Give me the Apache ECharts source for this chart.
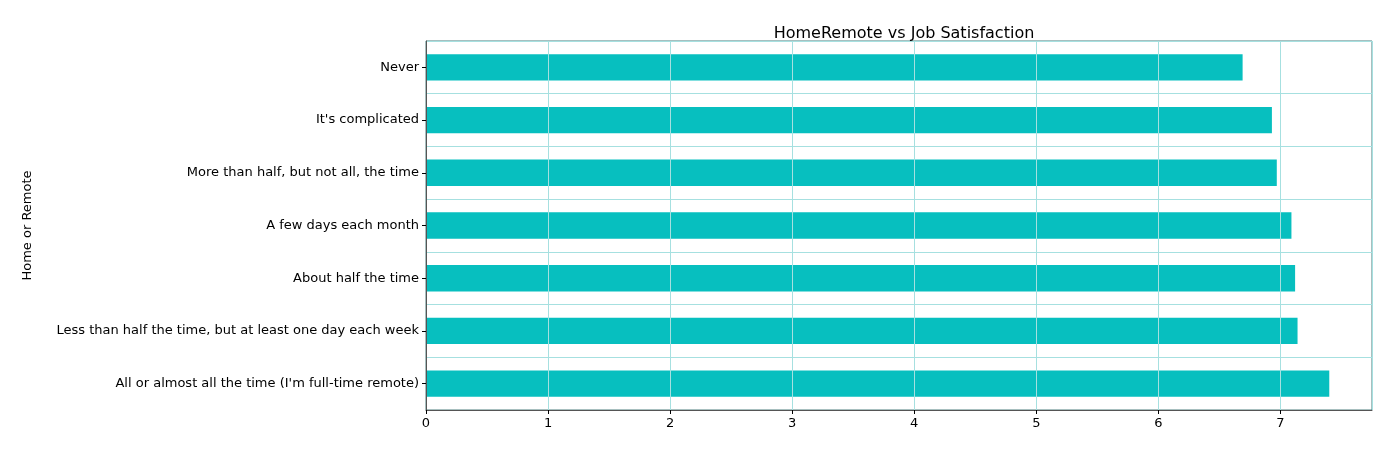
<!DOCTYPE html>
<html><head><meta charset="utf-8">
<script src="https://cdn.jsdelivr.net/npm/echarts@6/dist/echarts.min.js"></script>
<style>html,body{margin:0;background:#fff}#c{width:1400px;height:453px}</style>
</head><body><div id="c"></div>
<script>
const categories = ["All or almost all the time (I'm full-time remote)","Less than half the time, but at least one day each week","About half the time","A few days each month","More than half, but not all, the time","It's complicated","Never"];
const values = [7.40, 7.14, 7.12, 7.09, 6.97, 6.93, 6.69];
const chart = echarts.init(document.getElementById('c'));
const font = "DejaVu Sans";
chart.setOption({
  animation:false,
  title:{text:'HomeRemote vs Job Satisfaction',left:899,textAlign:'center',top:21,textStyle:{fontFamily:font,fontSize:16,fontWeight:'normal',color:'#000'}},
  grid:{left:426,right:28,top:41,bottom:43,show:true,borderColor:'#4f7f7f',borderWidth:1,z:3},
  xAxis:{type:'value',min:0,max:7.75,interval:1,z:3,
    axisLine:{show:true,onZero:false,lineStyle:{color:'#555'}},
    axisTick:{show:true,length:4,lineStyle:{color:'#000'}},
    axisLabel:{fontFamily:font,fontSize:13,color:'#000',margin:7,showMaxLabel:false,formatter:v=>v},
    splitLine:{show:true,lineStyle:{color:'#a6e0e0',width:1}}},
  yAxis:{type:'category',data:categories,z:3,name:'Home or Remote',nameLocation:'middle',nameGap:392,
    nameTextStyle:{fontFamily:font,fontSize:13,color:'#000'},
    axisLine:{show:true,lineStyle:{color:'#555'}},
    axisTick:{show:true,alignWithLabel:true,length:4,lineStyle:{color:'#000'}},
    axisLabel:{fontFamily:font,fontSize:13,color:'#000',margin:7},
    splitLine:{show:true,interval:0,lineStyle:{color:'#a6e0e0',width:1}}},
  series:[{type:'bar',data:values,barWidth:'50%',itemStyle:{color:'#07bfbf'},z:2}]
});
</script></body></html>
